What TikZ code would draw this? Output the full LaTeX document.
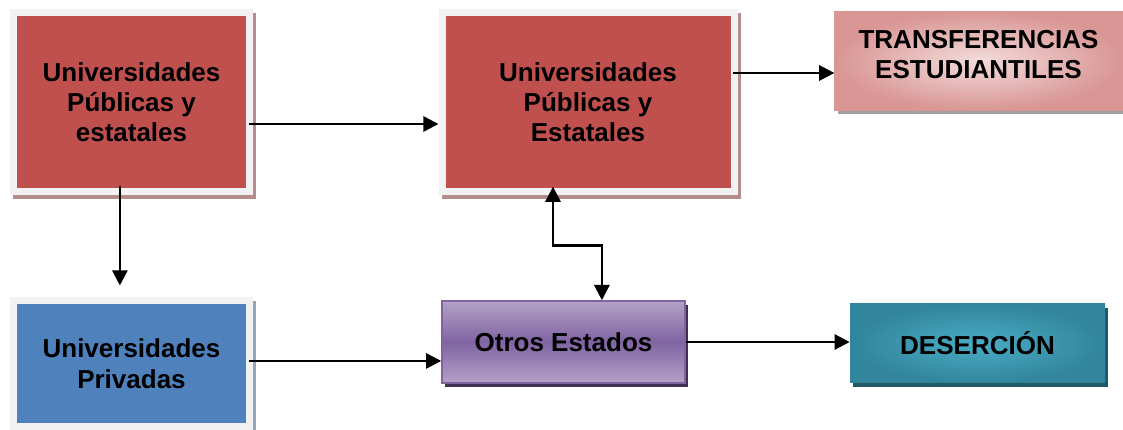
\documentclass[tikz,border=0pt]{standalone}
\usepackage{fontspec}
\setmainfont{Liberation Sans}
\usetikzlibrary{arrows.meta}
\definecolor{boxred}{HTML}{C0504D}
\definecolor{redshadow}{RGB}{180,140,140}
\definecolor{frame}{HTML}{F2F2F2}
\definecolor{boxblue}{HTML}{4F81BD}
\definecolor{blueshadow}{RGB}{150,165,190}
\definecolor{pinkin}{HTML}{F2DCDB}
\definecolor{pinkout}{HTML}{D99694}
\definecolor{grayshadow}{RGB}{165,160,160}
\definecolor{purplemid}{HTML}{8064A2}
\definecolor{purplelight}{HTML}{B3A2C7}
\definecolor{purpleshadow}{HTML}{3F3151}
\definecolor{tealin}{HTML}{4BACC6}
\definecolor{tealout}{HTML}{31859C}
\definecolor{tealshadow}{HTML}{215968}

\begin{document}
\begin{tikzpicture}[
    >={Triangle[length=0.38cm,width=0.38cm]},
    every node/.style={font=\bfseries\fontsize{18.5}{21.5}\selectfont, align=center, inner sep=0pt},
    framebox/.style={draw=frame, line width=0.175cm, minimum width=5.9cm, minimum height=4.46cm,
        preaction={draw=#1, fill=#1, transform canvas={shift={(0.075cm,-0.1cm)}}}},
    shadowed/.style={preaction={fill=#1, transform canvas={shift={(0.075cm,-0.1cm)}}}},
    link/.style={->, line width=0.06cm}
  ]
    \useasboundingbox (0, 0) rectangle (28.075, -10.75);
    \node[framebox=redshadow, fill=boxred] (pub1) at (3.2875, -2.55) {Universidades\\Públicas y\\estatales};
    \node[framebox=redshadow, fill=boxred, minimum width=7.3cm] (pub2) at (14.7, -2.55) {Universidades\\Públicas y\\Estatales};
    \node[framebox=blueshadow, fill=boxblue, minimum height=3.14cm] (priv) at (3.2875, -9.094) {Universidades\\Privadas};
    \node[shadowed=grayshadow, draw=pinkout, line width=0.03cm, inner color=pinkin, outer color=pinkout,
        minimum width=7.175cm, minimum height=2.45cm] (transfer) at (24.4625, -1.525) {};
    \node (transfertxt) at ([yshift=0.1625cm]transfer.center) {TRANSFERENCIAS\\ESTUDIANTILES};
    \node[shadowed=purpleshadow, draw=purplemid, line width=0.04cm, top color=purplelight, bottom color=purplelight,
        middle color=purplemid, minimum width=6.075cm, minimum height=2.05cm] (otros) at (14.0875, -8.55) {Otros Estados};
    \node[shadowed=tealshadow, inner color=tealin, outer color=tealout,
        minimum width=6.375cm, minimum height=1.975cm] (des) at (24.4375, -8.5875) {DESERCIÓN};

    \draw[link] ([xshift=-0.1cm, yshift=-0.55cm]pub1.east) -- ([yshift=-0.55cm]pub2.west);
    \draw[link] ([xshift=-0.29cm, yshift=0.225cm]pub1.south) -- ([xshift=-0.29cm, yshift=0.3cm]priv.north);
    \draw[link] ([xshift=-0.125cm, yshift=0.725cm]pub2.east) coordinate (t) -- (t -| transfer.west);
    \draw[link] ([xshift=-0.1cm, yshift=0.07cm]priv.east) coordinate (p) -- (p -| otros.west);
    \draw[link] (otros.east) -- (otros.east -| des.west);
    \draw[link, <->] ([xshift=-0.875cm, yshift=0.2cm]pub2.south) -- ++(0, -1.475) -| ([xshift=0.96cm]otros.north);
  \end{tikzpicture}
\end{document}
